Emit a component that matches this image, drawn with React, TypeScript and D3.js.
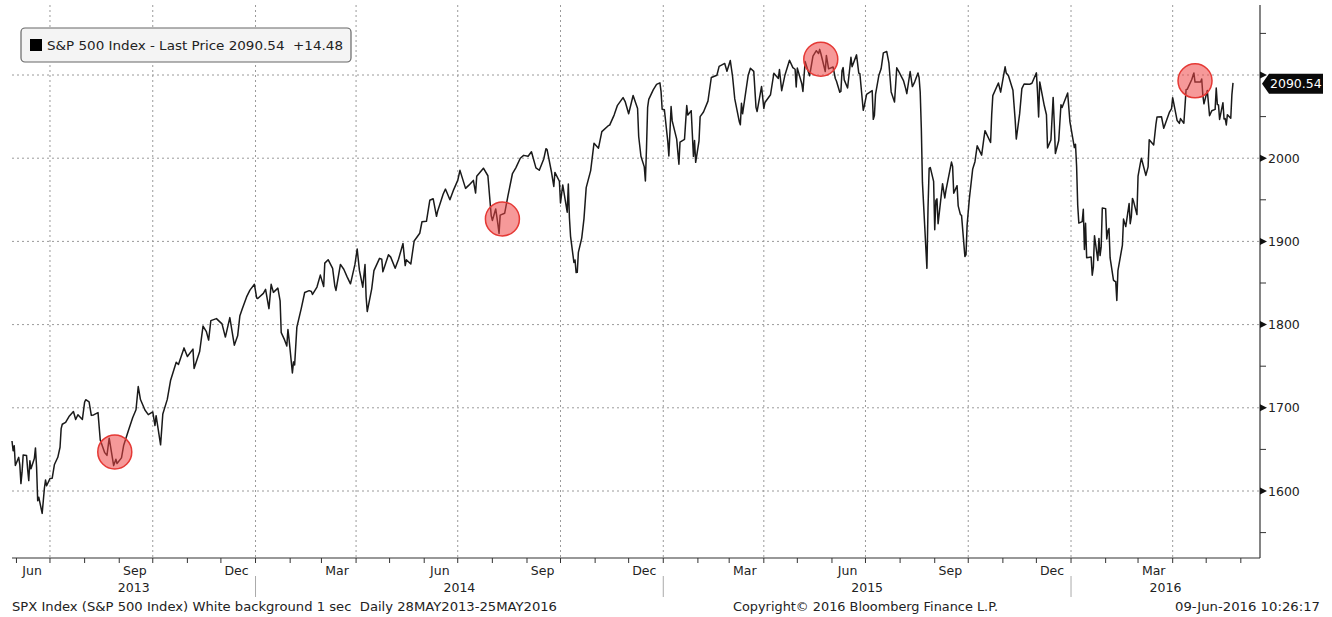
import React, { useEffect } from 'react';
import * as d3 from 'd3';

type Pt = [string, number];

const px2013: Pt[] = [
  ['2013-05-28', 1660.1], ['2013-05-29', 1648.4], ['2013-05-30', 1654.4], ['2013-05-31', 1630.7],
  ['2013-06-03', 1640.4], ['2013-06-04', 1631.4], ['2013-06-05', 1608.9], ['2013-06-06', 1622.6],
  ['2013-06-07', 1643.4], ['2013-06-10', 1642.8], ['2013-06-11', 1626.1], ['2013-06-12', 1612.5],
  ['2013-06-13', 1636.4], ['2013-06-14', 1626.7], ['2013-06-17', 1639.0], ['2013-06-18', 1651.8],
  ['2013-06-19', 1628.9], ['2013-06-20', 1588.2], ['2013-06-21', 1592.4], ['2013-06-24', 1573.1],
  ['2013-06-25', 1588.0], ['2013-06-26', 1603.3], ['2013-06-27', 1613.2], ['2013-06-28', 1606.3],
  ['2013-07-01', 1615.0], ['2013-07-03', 1615.4], ['2013-07-05', 1631.9], ['2013-07-08', 1640.5],
  ['2013-07-10', 1652.6], ['2013-07-11', 1675.0], ['2013-07-12', 1680.2], ['2013-07-15', 1682.5],
  ['2013-07-18', 1689.4], ['2013-07-22', 1695.5], ['2013-07-24', 1685.9], ['2013-07-26', 1691.7],
  ['2013-07-30', 1686.0], ['2013-08-01', 1706.9], ['2013-08-02', 1709.7], ['2013-08-05', 1707.1],
  ['2013-08-07', 1690.9], ['2013-08-09', 1691.4], ['2013-08-13', 1694.2], ['2013-08-15', 1661.3],
  ['2013-08-19', 1646.1], ['2013-08-21', 1642.8], ['2013-08-23', 1663.5], ['2013-08-27', 1630.5],
  ['2013-08-29', 1638.2], ['2013-08-30', 1633.0], ['2013-09-03', 1639.8], ['2013-09-05', 1655.1],
  ['2013-09-09', 1671.7], ['2013-09-13', 1688.0], ['2013-09-16', 1697.6], ['2013-09-18', 1725.5],
  ['2013-09-20', 1709.9], ['2013-09-24', 1697.4], ['2013-09-27', 1691.8], ['2013-10-01', 1695.0],
  ['2013-10-03', 1678.7], ['2013-10-04', 1690.5], ['2013-10-08', 1655.5], ['2013-10-10', 1692.6],
  ['2013-10-14', 1710.1], ['2013-10-17', 1733.2], ['2013-10-22', 1754.7], ['2013-10-24', 1752.1],
  ['2013-10-29', 1772.0], ['2013-11-01', 1761.6], ['2013-11-06', 1770.5], ['2013-11-07', 1747.2],
  ['2013-11-12', 1767.7], ['2013-11-15', 1798.2], ['2013-11-18', 1791.5], ['2013-11-20', 1781.4],
  ['2013-11-22', 1804.8], ['2013-11-27', 1807.2], ['2013-12-02', 1800.9], ['2013-12-05', 1785.0],
  ['2013-12-09', 1808.4], ['2013-12-13', 1775.3], ['2013-12-16', 1786.5], ['2013-12-18', 1810.7],
  ['2013-12-20', 1818.3], ['2013-12-24', 1833.3], ['2013-12-27', 1841.4], ['2013-12-31', 1848.4],
];

const px2014: Pt[] = [
  ['2014-01-02', 1832.0], ['2014-01-03', 1831.4], ['2014-01-08', 1837.5], ['2014-01-10', 1842.4],
  ['2014-01-13', 1819.2], ['2014-01-15', 1848.4], ['2014-01-17', 1838.7], ['2014-01-21', 1843.8],
  ['2014-01-23', 1828.5], ['2014-01-24', 1790.3], ['2014-01-27', 1781.6], ['2014-01-29', 1774.2],
  ['2014-01-30', 1794.2], ['2014-01-31', 1782.6], ['2014-02-03', 1741.9], ['2014-02-04', 1755.2],
  ['2014-02-05', 1751.6], ['2014-02-07', 1797.0], ['2014-02-11', 1819.8], ['2014-02-14', 1838.6],
  ['2014-02-18', 1840.8], ['2014-02-20', 1839.8], ['2014-02-21', 1836.3], ['2014-02-25', 1845.1],
  ['2014-02-28', 1859.5], ['2014-03-03', 1845.7], ['2014-03-04', 1873.9], ['2014-03-07', 1878.0],
  ['2014-03-11', 1867.6], ['2014-03-13', 1846.3], ['2014-03-14', 1841.1], ['2014-03-18', 1872.3],
  ['2014-03-21', 1866.5], ['2014-03-24', 1857.4], ['2014-03-27', 1849.0], ['2014-03-31', 1872.3],
  ['2014-04-02', 1890.9], ['2014-04-04', 1865.1], ['2014-04-07', 1845.0], ['2014-04-09', 1872.2],
  ['2014-04-10', 1833.1], ['2014-04-11', 1815.7], ['2014-04-15', 1843.0], ['2014-04-17', 1864.9],
  ['2014-04-22', 1879.6], ['2014-04-24', 1878.6], ['2014-04-25', 1863.4], ['2014-04-30', 1884.0],
  ['2014-05-02', 1881.1], ['2014-05-06', 1867.7], ['2014-05-09', 1878.5], ['2014-05-13', 1897.5],
  ['2014-05-15', 1870.9], ['2014-05-16', 1877.9], ['2014-05-20', 1872.8], ['2014-05-23', 1900.5],
  ['2014-05-28', 1909.8], ['2014-05-30', 1923.6], ['2014-06-03', 1924.2], ['2014-06-06', 1949.4],
  ['2014-06-09', 1951.3], ['2014-06-12', 1930.1], ['2014-06-13', 1936.2], ['2014-06-18', 1957.0],
  ['2014-06-20', 1962.9], ['2014-06-24', 1950.0], ['2014-06-27', 1961.0], ['2014-07-01', 1973.3],
  ['2014-07-03', 1985.4], ['2014-07-08', 1963.7], ['2014-07-11', 1967.6], ['2014-07-15', 1973.3],
  ['2014-07-17', 1958.1], ['2014-07-18', 1978.2], ['2014-07-24', 1988.0], ['2014-07-28', 1978.9],
  ['2014-07-31', 1930.7], ['2014-08-01', 1925.2], ['2014-08-04', 1939.0], ['2014-08-06', 1920.2],
  ['2014-08-07', 1909.6], ['2014-08-08', 1931.6], ['2014-08-12', 1933.8], ['2014-08-15', 1955.1],
  ['2014-08-19', 1981.6], ['2014-08-22', 1988.4], ['2014-08-26', 2000.0], ['2014-08-29', 2003.4],
  ['2014-09-02', 2002.3], ['2014-09-05', 2007.7], ['2014-09-09', 1988.4], ['2014-09-12', 1985.5],
  ['2014-09-16', 1999.0], ['2014-09-18', 2011.4], ['2014-09-19', 2010.4], ['2014-09-23', 1982.8],
  ['2014-09-25', 1966.0], ['2014-09-26', 1982.9], ['2014-09-30', 1972.3], ['2014-10-01', 1946.2],
  ['2014-10-03', 1967.9], ['2014-10-07', 1935.1], ['2014-10-08', 1968.9], ['2014-10-09', 1928.2],
  ['2014-10-10', 1906.1], ['2014-10-13', 1874.7], ['2014-10-14', 1877.7], ['2014-10-15', 1862.5],
  ['2014-10-16', 1862.8], ['2014-10-17', 1886.8], ['2014-10-20', 1904.0], ['2014-10-22', 1927.1],
  ['2014-10-24', 1964.6], ['2014-10-28', 1985.1], ['2014-10-31', 2018.1], ['2014-11-04', 2012.1],
  ['2014-11-07', 2031.9], ['2014-11-13', 2039.3], ['2014-11-14', 2039.8], ['2014-11-18', 2051.8],
  ['2014-11-21', 2063.5], ['2014-11-26', 2072.8], ['2014-11-28', 2067.6], ['2014-12-01', 2053.4],
  ['2014-12-05', 2075.4], ['2014-12-09', 2059.8], ['2014-12-10', 2026.1], ['2014-12-12', 2002.3],
  ['2014-12-15', 1989.6], ['2014-12-16', 1972.7], ['2014-12-17', 2012.9], ['2014-12-18', 2061.2],
  ['2014-12-19', 2070.7], ['2014-12-23', 2082.2], ['2014-12-26', 2088.8], ['2014-12-29', 2090.6],
  ['2014-12-30', 2080.4], ['2014-12-31', 2058.9],
];

const px2015: Pt[] = [
  ['2015-01-02', 2058.2], ['2015-01-05', 2020.6], ['2015-01-06', 2002.6], ['2015-01-08', 2062.1],
  ['2015-01-09', 2044.8], ['2015-01-13', 2023.0], ['2015-01-15', 1992.7], ['2015-01-16', 2019.4],
  ['2015-01-20', 2022.6], ['2015-01-22', 2063.2], ['2015-01-23', 2051.8], ['2015-01-26', 2057.1],
  ['2015-01-27', 2029.6], ['2015-01-28', 2002.2], ['2015-01-29', 2021.3], ['2015-01-30', 1995.0],
  ['2015-02-02', 2020.9], ['2015-02-03', 2050.0], ['2015-02-06', 2055.5], ['2015-02-10', 2068.6],
  ['2015-02-13', 2097.0], ['2015-02-18', 2099.7], ['2015-02-20', 2110.3], ['2015-02-25', 2113.9],
  ['2015-02-27', 2104.5], ['2015-03-02', 2117.4], ['2015-03-04', 2098.5], ['2015-03-06', 2071.3],
  ['2015-03-10', 2044.2], ['2015-03-11', 2040.2], ['2015-03-12', 2066.0], ['2015-03-13', 2053.4],
  ['2015-03-16', 2081.2], ['2015-03-18', 2099.5], ['2015-03-20', 2108.1], ['2015-03-23', 2104.4],
  ['2015-03-25', 2061.1], ['2015-03-26', 2056.2], ['2015-03-30', 2086.2], ['2015-04-01', 2059.7],
  ['2015-04-02', 2067.0], ['2015-04-07', 2076.3], ['2015-04-10', 2102.1], ['2015-04-14', 2095.8],
  ['2015-04-15', 2106.6], ['2015-04-17', 2081.2], ['2015-04-20', 2100.4], ['2015-04-24', 2117.7],
  ['2015-04-27', 2108.9], ['2015-04-29', 2106.9], ['2015-04-30', 2085.5], ['2015-05-01', 2108.3],
  ['2015-05-05', 2089.5], ['2015-05-06', 2080.2], ['2015-05-08', 2116.1], ['2015-05-12', 2099.1],
  ['2015-05-15', 2122.7], ['2015-05-18', 2129.2], ['2015-05-20', 2125.9], ['2015-05-21', 2130.8],
  ['2015-05-22', 2126.1], ['2015-05-26', 2104.2], ['2015-05-27', 2123.5], ['2015-05-29', 2107.4],
  ['2015-06-02', 2109.6], ['2015-06-04', 2095.8], ['2015-06-05', 2092.8], ['2015-06-08', 2079.3],
  ['2015-06-09', 2080.2], ['2015-06-10', 2105.2], ['2015-06-11', 2108.9], ['2015-06-12', 2094.1],
  ['2015-06-15', 2084.4], ['2015-06-18', 2121.2], ['2015-06-19', 2110.0], ['2015-06-23', 2124.2],
  ['2015-06-25', 2102.3], ['2015-06-26', 2101.5], ['2015-06-29', 2057.6], ['2015-06-30', 2063.1],
  ['2015-07-02', 2076.8], ['2015-07-07', 2081.3], ['2015-07-08', 2046.7], ['2015-07-09', 2051.3],
  ['2015-07-10', 2076.6], ['2015-07-13', 2099.6], ['2015-07-15', 2107.4], ['2015-07-17', 2126.6],
  ['2015-07-20', 2128.3], ['2015-07-22', 2114.2], ['2015-07-24', 2079.7], ['2015-07-27', 2067.6],
  ['2015-07-29', 2108.6], ['2015-07-31', 2103.8], ['2015-08-04', 2093.3], ['2015-08-06', 2083.6],
  ['2015-08-07', 2077.6], ['2015-08-10', 2104.2], ['2015-08-12', 2086.1], ['2015-08-14', 2091.5],
  ['2015-08-17', 2102.4], ['2015-08-18', 2096.9], ['2015-08-19', 2079.6], ['2015-08-20', 2035.7],
  ['2015-08-21', 1970.9], ['2015-08-24', 1893.2], ['2015-08-25', 1867.6], ['2015-08-26', 1940.5],
  ['2015-08-27', 1987.7], ['2015-08-28', 1988.9], ['2015-08-31', 1972.2], ['2015-09-01', 1913.9],
  ['2015-09-02', 1948.9], ['2015-09-03', 1951.1], ['2015-09-04', 1921.2], ['2015-09-08', 1969.4],
  ['2015-09-10', 1952.3], ['2015-09-11', 1961.1], ['2015-09-16', 1995.3], ['2015-09-17', 1990.2],
  ['2015-09-18', 1958.0], ['2015-09-21', 1967.0], ['2015-09-22', 1942.7], ['2015-09-24', 1932.2],
  ['2015-09-25', 1931.3], ['2015-09-28', 1881.8], ['2015-09-29', 1884.1], ['2015-09-30', 1920.0],
  ['2015-10-02', 1951.4], ['2015-10-05', 1987.1], ['2015-10-07', 1995.8], ['2015-10-09', 2014.9],
  ['2015-10-13', 2003.7], ['2015-10-15', 2023.9], ['2015-10-16', 2033.1], ['2015-10-21', 2018.9],
  ['2015-10-22', 2052.5], ['2015-10-23', 2075.2], ['2015-10-28', 2090.4], ['2015-10-30', 2079.4],
  ['2015-11-03', 2109.8], ['2015-11-04', 2102.3], ['2015-11-06', 2099.2], ['2015-11-10', 2081.7],
  ['2015-11-12', 2046.0], ['2015-11-13', 2023.0], ['2015-11-16', 2053.2], ['2015-11-18', 2083.6],
  ['2015-11-20', 2089.2], ['2015-11-25', 2088.9], ['2015-11-27', 2090.1], ['2015-12-01', 2102.6],
  ['2015-12-02', 2079.5], ['2015-12-03', 2049.6], ['2015-12-04', 2091.7], ['2015-12-08', 2063.6],
  ['2015-12-10', 2052.2], ['2015-12-11', 2012.4], ['2015-12-14', 2021.9], ['2015-12-16', 2073.1],
  ['2015-12-17', 2041.9], ['2015-12-18', 2005.6], ['2015-12-21', 2021.2], ['2015-12-23', 2064.3],
  ['2015-12-24', 2061.0], ['2015-12-29', 2078.4], ['2015-12-31', 2043.9],
];

const px2016: Pt[] = [
  ['2016-01-04', 2012.7], ['2016-01-05', 2016.7], ['2016-01-06', 1990.3], ['2016-01-07', 1943.1],
  ['2016-01-08', 1922.0], ['2016-01-11', 1923.7], ['2016-01-12', 1938.7], ['2016-01-13', 1890.3],
  ['2016-01-14', 1921.8], ['2016-01-15', 1880.3], ['2016-01-19', 1881.3], ['2016-01-20', 1859.3],
  ['2016-01-21', 1869.0], ['2016-01-22', 1906.9], ['2016-01-25', 1877.1], ['2016-01-26', 1903.6],
  ['2016-01-27', 1883.0], ['2016-01-28', 1893.4], ['2016-01-29', 1940.2], ['2016-02-01', 1939.4],
  ['2016-02-02', 1903.0], ['2016-02-03', 1912.5], ['2016-02-04', 1915.5], ['2016-02-05', 1880.1],
  ['2016-02-08', 1853.4], ['2016-02-09', 1852.2], ['2016-02-10', 1851.9], ['2016-02-11', 1829.1],
  ['2016-02-12', 1864.8], ['2016-02-16', 1895.6], ['2016-02-17', 1926.8], ['2016-02-19', 1917.8],
  ['2016-02-22', 1945.5], ['2016-02-23', 1921.3], ['2016-02-24', 1929.8], ['2016-02-25', 1951.7],
  ['2016-02-26', 1948.1], ['2016-02-29', 1932.2], ['2016-03-01', 1978.4], ['2016-03-03', 1993.4],
  ['2016-03-04', 2000.0], ['2016-03-08', 1979.3], ['2016-03-10', 1989.6], ['2016-03-11', 2022.2],
  ['2016-03-15', 2015.9], ['2016-03-17', 2040.6], ['2016-03-18', 2049.6], ['2016-03-22', 2049.8],
  ['2016-03-24', 2035.9], ['2016-03-29', 2055.0], ['2016-03-31', 2059.7], ['2016-04-01', 2072.8],
  ['2016-04-05', 2045.2], ['2016-04-07', 2041.9], ['2016-04-08', 2047.6], ['2016-04-11', 2042.0],
  ['2016-04-13', 2082.4], ['2016-04-14', 2082.8], ['2016-04-18', 2094.3], ['2016-04-20', 2102.4],
  ['2016-04-21', 2091.5], ['2016-04-22', 2091.6], ['2016-04-26', 2091.7], ['2016-04-27', 2095.2],
  ['2016-04-28', 2075.8], ['2016-04-29', 2065.3], ['2016-05-02', 2081.4], ['2016-05-04', 2051.1],
  ['2016-05-06', 2057.1], ['2016-05-09', 2058.7], ['2016-05-10', 2084.4], ['2016-05-11', 2064.5],
  ['2016-05-12', 2064.1], ['2016-05-13', 2046.6], ['2016-05-16', 2066.7], ['2016-05-17', 2047.2],
  ['2016-05-18', 2047.6], ['2016-05-19', 2040.0], ['2016-05-20', 2052.3], ['2016-05-23', 2048.0],
  ['2016-05-24', 2076.1], ['2016-05-25', 2090.5],
];

const yTicks = [1600, 1700, 1800, 1900, 2000, 2100];
const yMinorTicks = [1550, 1650, 1750, 1850, 1950, 2050, 2150];
const monthLabels: Record<number, string> = { 5: 'Jun', 8: 'Sep', 11: 'Dec', 2: 'Mar' };
const years = [2013, 2014, 2015, 2016];
const highlights: Pt[] = [
  ['2013-08-28', 1647], ['2014-08-10', 1927], ['2015-05-22', 2119], ['2016-04-21', 2093],
];

const legendText = 'S&P 500 Index - Last Price 2090.54\u00A0\u00A0+14.48';
const lastPrice = 2090.54;
const footerLeft = 'SPX Index (S&P 500 Index) White background 1 sec\u00A0\u00A0Daily 28MAY2013-25MAY2016';
const footerMid = 'Copyright\u00A9 2016 Bloomberg Finance L.P.';
const footerRight = '09-Jun-2016 10:26:17';

const W = 1332;
const H = 617;
const FONT = '"DejaVu Sans", Tahoma, sans-serif';

const parse = d3.timeParse('%Y-%m-%d');

export default function App() {
  useEffect(() => {
    document.body.style.margin = '0';
    document.body.style.background = '#fff';
  }, []);

  const data = [...px2013, ...px2014, ...px2015, ...px2016].map(([d, v]) => ({ date: parse(d) as Date, value: v }));

  const left = 12;
  const axisX = 1260;
  const top = 5;
  const bottom = 558;

  const x = d3.scaleTime()
    .domain([parse('2013-05-28') as Date, parse('2016-05-25') as Date])
    .range([left, 1233]);
  const y = d3.scaleLinear().domain([1600, 2100]).range([491, 75]);

  const axisEndDate = x.invert(axisX);
  const line = d3.line<{ date: Date; value: number }>()
    .x(d => x(d.date))
    .y(d => y(d.value));

  const monthStarts = d3.timeMonth.range(new Date(2013, 5, 1), axisEndDate);
  const quarterGrid = monthStarts.filter(m => [0, 3, 6, 9].includes(m.getMonth()));
  const labelMonths = d3.timeMonth.range(new Date(2013, 5, 1), new Date(2016, 5, 1))
    .filter(m => monthLabels[m.getMonth()] !== undefined);
  const yearSeps = years.slice(1).map(yr => new Date(yr, 0, 1));

  const gridStyle = { stroke: '#9a9a9a', strokeWidth: 1, strokeDasharray: '2,3' };
  const ly = y(lastPrice) + 1;

  return (
    <svg width={W} height={H} style={{ display: 'block', fontFamily: FONT }}>
      <rect x={0} y={0} width={W} height={H} fill="#fff" />

      {/* horizontal grid */}
      {yTicks.map(t => (
        <line key={`h${t}`} x1={left} x2={axisX} y1={y(t)} y2={y(t)} {...gridStyle} />
      ))}
      {/* vertical grid */}
      {quarterGrid.map(m => (
        <line key={`v${+m}`} x1={x(m)} x2={x(m)} y1={top} y2={bottom} {...gridStyle} />
      ))}

      {/* price line */}
      <path d={line(data) || ''} fill="none" stroke="#1a1a1a" strokeWidth={1.5} strokeLinejoin="round" />

      {/* highlights */}
      {highlights.map(([d, v]) => (
        <circle key={d} cx={x(parse(d) as Date)} cy={y(v)} r={17}
          fill="rgba(238,70,70,0.55)" stroke="#e53935" strokeWidth={1.5} />
      ))}

      {/* x axis */}
      <line x1={left} x2={axisX} y1={bottom} y2={bottom} stroke="#333" strokeWidth={1.2} />
      {monthStarts.map(m => (
        <line key={`t${+m}`} x1={x(m)} x2={x(m)} y1={bottom} y2={bottom + 5} stroke="#333" strokeWidth={1} />
      ))}
      {labelMonths.map(m => (
        <text key={`ml${+m}`} x={x(d3.timeDay.offset(m, 14))} y={575} fontSize={12.5}
          textAnchor="middle" fill="#222">{monthLabels[m.getMonth()]}</text>
      ))}
      {yearSeps.map(d => (
        <line key={`ys${+d}`} x1={x(d)} x2={x(d)} y1={576} y2={597} stroke="#aaa" strokeWidth={1} />
      ))}
      {years.map(yr => {
        const a = Math.max(x(new Date(yr, 0, 1)), left);
        const b = Math.min(x(new Date(yr + 1, 0, 1)), axisX);
        return (
          <text key={`yl${yr}`} x={(a + b) / 2} y={592} fontSize={12.5} textAnchor="middle" fill="#222">{yr}</text>
        );
      })}

      {/* right axis */}
      <line x1={axisX} x2={axisX} y1={top} y2={bottom} stroke="#333" strokeWidth={1.2} />
      {yMinorTicks.map(t => (
        <line key={`mt${t}`} x1={axisX} x2={axisX + 6} y1={y(t)} y2={y(t)} stroke="#333" strokeWidth={1} />
      ))}
      {yTicks.map(t => (
        <g key={`yt${t}`}>
          <path d={`M${axisX},${y(t) - 3.5} L${axisX + 7},${y(t)} L${axisX},${y(t) + 3.5} Z`} fill="#111" />
          {t !== 2100 && (
            <text x={axisX + 8} y={y(t) + 4.5} fontSize={12.5} fill="#222">{t}</text>
          )}
        </g>
      ))}

      {/* last price tag (covers the 2100 label, as in the original) */}
      <path
        d={`M${axisX + 2},${ly} L${axisX + 9},${ly - 10} L${W - 9},${ly - 10} L${W - 9},${ly + 10} L${axisX + 9},${ly + 10} Z`}
        fill="#0a0a0a" />
      <text x={axisX + 10} y={ly + 4.5} fontSize={12.5} fill="#fff">{lastPrice.toFixed(2)}</text>

      {/* legend */}
      <rect x={21} y={28} width={330} height={34} rx={4} fill="#f4f4f4" stroke="#666" strokeWidth={1.2} />
      <rect x={30} y={39} width={12} height={12} fill="#000" />
      <text x={47} y={50} fontSize={13} fill="#222" textLength={296} lengthAdjust="spacingAndGlyphs">{legendText}</text>

      {/* footer */}
      <text x={12} y={611} fontSize={12} fill="#222" textLength={545} lengthAdjust="spacingAndGlyphs">{footerLeft}</text>
      <text x={733} y={611} fontSize={12} fill="#222" textLength={265} lengthAdjust="spacingAndGlyphs">{footerMid}</text>
      <text x={1175} y={611} fontSize={12} fill="#222" textLength={145} lengthAdjust="spacingAndGlyphs">{footerRight}</text>
    </svg>
  );
}
